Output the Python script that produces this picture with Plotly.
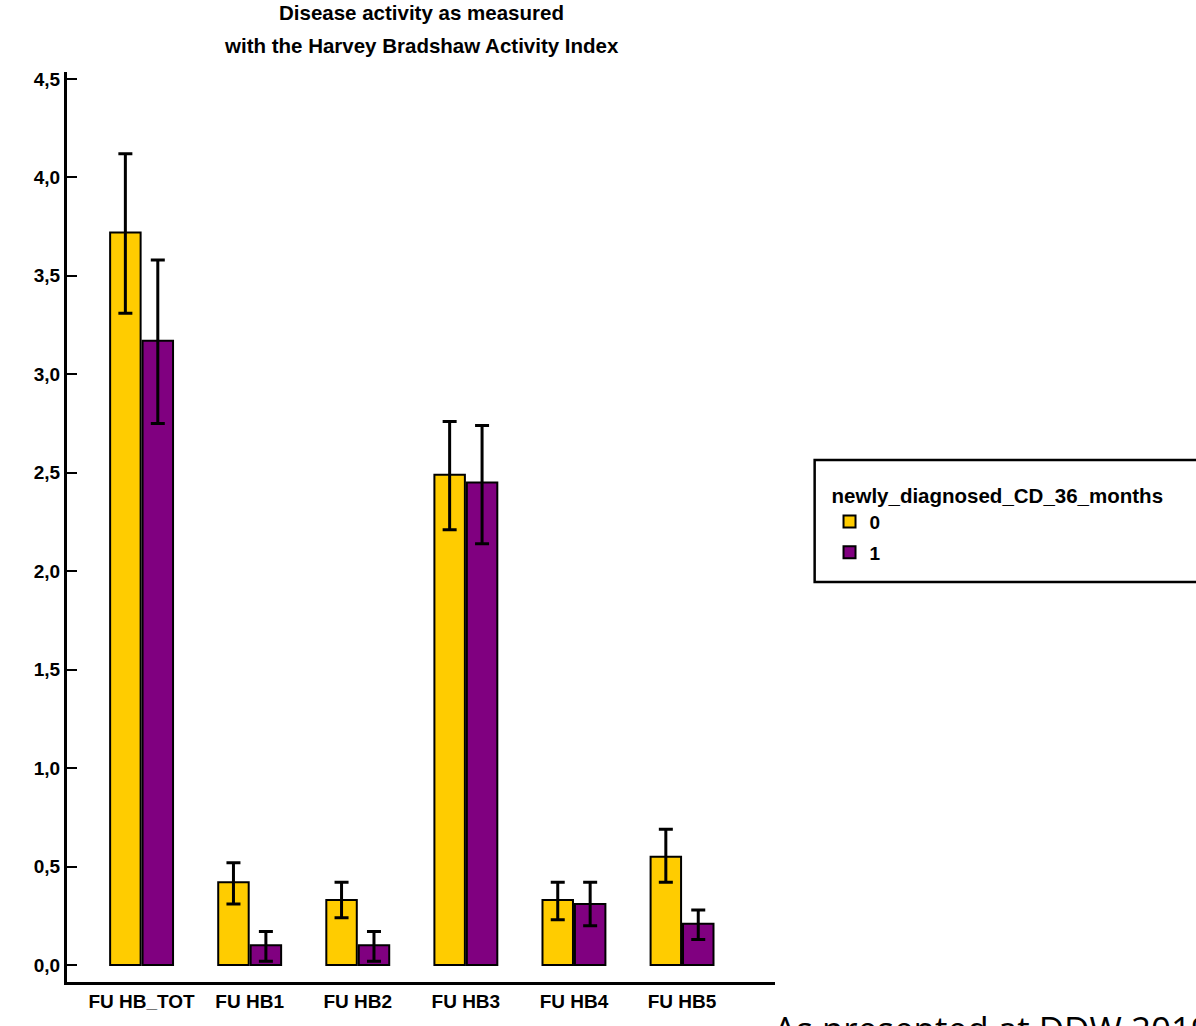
import plotly.graph_objects as go

categories = ["FU HB_TOT", "FU HB1", "FU HB2", "FU HB3", "FU HB4", "FU HB5"]
group_names = ["0", "1"]

mean_0 = [3.72, 0.42, 0.33, 2.49, 0.33, 0.55]
upper_0 = [4.12, 0.52, 0.42, 2.76, 0.42, 0.69]
lower_0 = [3.31, 0.31, 0.24, 2.21, 0.23, 0.42]

mean_1 = [3.17, 0.10, 0.10, 2.45, 0.31, 0.21]
upper_1 = [3.58, 0.17, 0.17, 2.74, 0.42, 0.28]
lower_1 = [2.75, 0.02, 0.02, 2.14, 0.20, 0.13]

y_ticks = [0.0, 0.5, 1.0, 1.5, 2.0, 2.5, 3.0, 3.5, 4.0, 4.5]

colors = ["#FFCC00", "#800080"]
FONT = "Liberation Sans Narrow, Liberation Sans, Arial, sans-serif"

fig = go.Figure()
for name, m, up, lo, col in [
    (group_names[0], mean_0, upper_0, lower_0, colors[0]),
    (group_names[1], mean_1, upper_1, lower_1, colors[1]),
]:
    fig.add_trace(go.Bar(
        x=categories, y=m, name=name, legendgroup=name,
        marker=dict(color=col, line=dict(color="black", width=2)),
        error_y=dict(type="data", symmetric=False,
                     array=[u - v for u, v in zip(up, m)],
                     arrayminus=[v - l for v, l in zip(m, lo)],
                     color="black", thickness=3, width=7),
    ))

fig.update_layout(
    width=1196, height=1026,
    margin=dict(l=67, r=421, t=72, b=44, autoexpand=False),
    paper_bgcolor="white", plot_bgcolor="white",
    separators=",.",
    barmode="group", bargap=0.4, bargroupgap=0.06,
    font=dict(family=FONT, size=19, color="black", weight="bold"),
    showlegend=True,
    legend=dict(
        x=1.077, y=0.556, xanchor="left", yanchor="top",
        title=dict(text="newly_diagnosed_CD_36_months", font=dict(size=20.5, family=FONT, weight="bold")),
        font=dict(size=19, family=FONT, weight="bold"),
        bgcolor="rgba(0,0,0,0)", borderwidth=0,
        traceorder="grouped", tracegroupgap=3,
    ),
    xaxis=dict(
        range=[-0.69, 5.86], showline=True, linecolor="black", linewidth=3,
        ticks="", showgrid=False, zeroline=False, automargin=False,
        tickfont=dict(size=19, family=FONT, weight="bold"),
    ),
    yaxis=dict(
        range=[-0.086, 4.535], showline=True, linecolor="black", linewidth=3,
        ticks="inside", ticklen=10, tickwidth=2, tickcolor="black",
        tickvals=y_ticks, tickformat=".1f", showgrid=False, zeroline=False,
        automargin=False,
        tickfont=dict(size=19, family=FONT, weight="bold"),
    ),
    shapes=[dict(type="rect", xref="paper", yref="paper",
                 x0=1.056, x1=2.0, y0=0.4396, y1=0.5736,
                 line=dict(color="black", width=2.5), fillcolor="rgba(0,0,0,0)")],
    annotations=[
        dict(text="Disease activity as measured", xref="paper", yref="paper",
             x=0.5, y=1, yshift=60, xanchor="center", yanchor="middle", showarrow=False,
             font=dict(size=20.5, family=FONT, weight="bold")),
        dict(text="with the Harvey Bradshaw Activity Index", xref="paper", yref="paper",
             x=0.5, y=1, yshift=27, xanchor="center", yanchor="middle", showarrow=False,
             font=dict(size=20.5, family=FONT, weight="bold")),
        dict(text="As presented at DDW 2019", xref="paper", yref="paper",
             x=(772 - 67) / 708, y=0, yshift=-21, xanchor="left", yanchor="top",
             showarrow=False,
             font=dict(size=35, family="Open Sans, sans-serif", weight="normal")),
    ],
)

fig.write_html("out.html", config={"displayModeBar": False},
               post_script="document.body.style.margin='0';document.body.style.overflow='hidden';")
